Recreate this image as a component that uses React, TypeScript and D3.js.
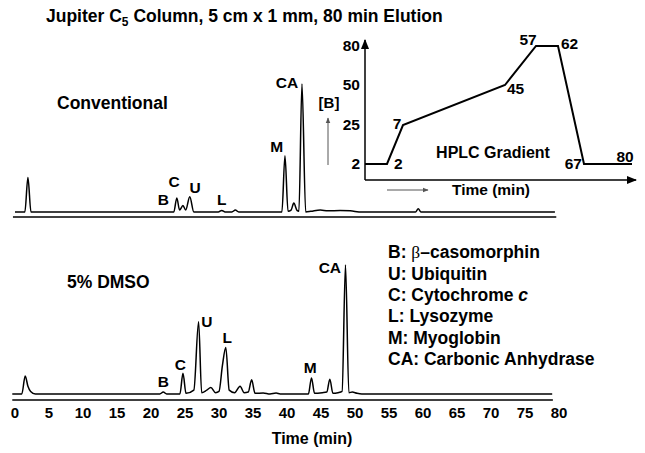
import * as d3 from 'd3';

// retention time axis (min)
const xTicks = [0, 5, 10, 15, 20, 25, 30, 35, 40, 45, 50, 55, 60, 65, 70, 75, 80];

// chromatogram traces: [time (min), relative absorbance (CA = 100)]
const conventionalTrace: [number, number][] = [
  [0, 0], [1.45, 0], [1.9, 27], [2.35, 0],
  [23.35, 0], [23.8, 11], [24.2, 1.5], [24.7, 5], [25.1, 1.5], [25.7, 12], [26.3, 0],
  [29.9, 0], [30.4, 1.2], [30.9, 0], [31.9, 0], [32.4, 1.5], [32.9, 0],
  [39.25, 0], [39.7, 44], [40.15, 0.5], [40.6, 1.5], [41.0, 7], [41.5, 1], [41.75, 0.5],
  [42.2, 100], [42.75, 0], [43.5, 0.5], [44.9, 1.6], [46.0, 0.9], [47.8, 1.2], [49.3, 0.9],
  [51, 0], [58.9, 0], [59.3, 2.5], [59.7, 0], [79.4, 0],
];

const dmsoTrace: [number, number][] = [
  [-0.4, 0], [1.0, 0], [1.5, 14], [1.9, 6], [2.3, 2], [3.0, 0],
  [21.3, 0], [21.8, 1.5], [22.3, 0],
  [24.25, 0], [24.7, 16], [25.15, 0.5], [26.3, 3], [27.0, 56], [27.45, 1],
  [28.2, 3], [28.8, 5], [29.5, 1], [30.0, 2], [30.5, 22], [31.0, 36], [31.5, 3],
  [32.3, 1], [33.1, 6], [33.7, 1], [34.3, 1.5], [34.8, 11], [35.3, 0.5],
  [36.5, 0.8], [37.5, 0], [38.4, 0.7], [39, 0],
  [43.15, 0], [43.6, 12.5], [44.05, 0.5], [45.2, 1], [45.85, 1.5], [46.3, 11.5], [46.75, 0.5],
  [47.5, 1], [48.1, 2], [48.6, 100], [49.1, 1], [49.6, 1.5], [50.3, 0.5], [51, 0], [79, 0],
];

// peak annotations: [label, time, signal level]
const conventionalLabels: [string, number, number][] = [
  ['B', 21.8, 10], ['C', 23.4, 23.4], ['U', 26.5, 18.8], ['L', 30.4, 10],
  ['M', 38.5, 50.8], ['CA', 40.0, 100.8],
];
const dmsoLabels: [string, number, number][] = [
  ['B', 21.8, 10], ['C', 24.3, 22.5], ['U', 28.2, 55.8], ['L', 31.2, 43.4],
  ['M', 43.4, 20.2], ['CA', 46.3, 97.7],
];

// HPLC gradient inset: time (min) vs %B
const gradTimes = [0, 2, 7, 45, 57, 62, 67, 80];
const gradB = [2, 2, 25, 50, 80, 80, 2, 2];
const gradBTicks = [2, 25, 50, 80];
const gradCornerLabels = ['2', '7', '45', '57', '62', '67', '80'];

const legendItems = [
  ['B: ', 'β', '–casomorphin', ''],
  ['U: Ubiquitin', '', '', ''],
  ['C: Cytochrome ', '', '', 'c'],
  ['L: Lysozyme', '', '', ''],
  ['M: Myoglobin', '', '', ''],
  ['CA: Carbonic Anhydrase', '', '', ''],
];

const FONT = "'Liberation Sans', Arial, sans-serif";

export default function App() {
  const x = d3.scaleLinear().domain([0, 80]).range([15, 559]);
  const yTop = d3.scaleLinear().domain([0, 100]).range([212, 84]);
  const yBot = d3.scaleLinear().domain([0, 100]).range([394, 265]);

  const lineTop = d3.line<[number, number]>()
    .x(d => x(d[0])).y(d => yTop(d[1])).curve(d3.curveMonotoneX);
  const lineBot = d3.line<[number, number]>()
    .x(d => x(d[0])).y(d => yBot(d[1])).curve(d3.curveMonotoneX);

  // inset scales (schematic, piecewise)
  const gx = d3.scaleLinear().domain(gradTimes).range([365, 387, 403, 505, 536, 558, 584, 632]);
  const gy = d3.scaleLinear().domain(gradBTicks).range([164, 125, 85, 46]);
  const gradPts = gradTimes.map((t, i) => [gx(t), gy(gradB[i])] as [number, number]);
  const gradLine = d3.line<[number, number]>()(gradPts) || '';

  // placement of corner labels relative to the corner points
  const cornerOffsets: [number, number, string][] = [
    [7, 0, 'start'], [-6, -1, 'middle'], [2, 4, 'start'], [-8, -6, 'middle'],
    [3, -2, 'start'], [-2, 0, 'end'], [-7, -7, 'middle'],
  ];

  const peakLabel = (lbls: [string, number, number][], y: d3.ScaleLinear<number, number>) =>
    lbls.map(([s, t, v], i) => (
      <text key={i} x={x(t)} y={y(v)} dy="0.35em" textAnchor="middle"
        fontSize={15.5} fontWeight="bold">{s}</text>
    ));

  return (
    <svg width={645} height={453} style={{ position: 'absolute', left: 0, top: 0, background: '#fff' }}
      fontFamily={FONT}>
      <defs>
        <marker id="ah" viewBox="0 0 10 10" refX="9" refY="5" markerWidth="7" markerHeight="7" orient="auto">
          <path d="M0,1 L10,5 L0,9 z" fill="#000" />
        </marker>
        <marker id="ahg" viewBox="0 0 10 10" refX="9" refY="5" markerWidth="6" markerHeight="6" orient="auto">
          <path d="M0,1 L10,5 L0,9 z" fill="#555" />
        </marker>
      </defs>

      {/* title */}
      <text x={46} y={22} fontSize={17.5} fontWeight="bold">
        Jupiter C<tspan fontSize={12} dy={4}>5</tspan><tspan dy={-4}>{'  '}Column, 5 cm x 1 mm, 80 min Elution</tspan>
      </text>

      {/* conventional panel */}
      <text x={57} y={103} dy="0.35em" fontSize={17.5} fontWeight="bold">Conventional</text>
      <path d={lineTop(conventionalTrace) || ''} fill="none" stroke="#000" strokeWidth={1.5} />
      <line x1={x(-0.3)} x2={x(79.6)} y1={217} y2={217} stroke="#000" strokeWidth={1.5} />
      {peakLabel(conventionalLabels, yTop)}

      {/* [B] arrow */}
      <text x={329} y={103} dy="0.35em" textAnchor="middle" fontSize={15} fontWeight="bold">[B]</text>
      <line x1={328} x2={328} y1={165} y2={118} stroke="#555" strokeWidth={1} markerEnd="url(#ahg)" />

      {/* inset gradient */}
      <line x1={gx(0)} x2={gx(0)} y1={180} y2={40} stroke="#000" strokeWidth={1.5} markerEnd="url(#ah)" />
      <line x1={gx(0)} x2={636} y1={180} y2={180} stroke="#000" strokeWidth={1.5} markerEnd="url(#ah)" />
      {gradBTicks.map(v => (
        <text key={v} x={360} y={gy(v)} dy="0.35em" textAnchor="end" fontSize={15.5} fontWeight="bold">{v}</text>
      ))}
      <path d={gradLine} fill="none" stroke="#000" strokeWidth={2} />
      {gradCornerLabels.map((s, i) => {
        const [px, py] = gradPts[i + 1];
        const [dx, dy, anchor] = cornerOffsets[i];
        return (
          <text key={i} x={px + dx} y={py + dy} dy="0.35em" textAnchor={anchor}
            fontSize={15.5} fontWeight="bold">{s}</text>
        );
      })}
      <text x={493} y={152} dy="0.35em" textAnchor="middle" fontSize={16} fontWeight="bold">HPLC Gradient</text>
      <line x1={387} x2={428} y1={190} y2={190} stroke="#555" strokeWidth={1} markerEnd="url(#ahg)" />
      <text x={491} y={190} dy="0.35em" textAnchor="middle" fontSize={15.5} fontWeight="bold">Time (min)</text>

      {/* 5% DMSO panel */}
      <text x={67} y={282} dy="0.35em" fontSize={17.5} fontWeight="bold">5% DMSO</text>
      <path d={lineBot(dmsoTrace) || ''} fill="none" stroke="#000" strokeWidth={1.5} />
      <line x1={x(-0.4)} x2={x(79.1)} y1={400} y2={400} stroke="#000" strokeWidth={1.5} />
      {peakLabel(dmsoLabels, yBot)}

      {/* legend */}
      {legendItems.map((it, i) => (
        <text key={i} x={388} y={252 + i * 21.4} dy="0.35em" fontSize={17.5} fontWeight="bold">
          {it[0]}
          {it[1] && <tspan fontFamily="'Liberation Serif', serif" fontWeight="normal">{it[1]}</tspan>}
          {it[2]}
          {it[3] && <tspan fontStyle="italic">{it[3]}</tspan>}
        </text>
      ))}

      {/* x axis */}
      {xTicks.map(t => (
        <text key={t} x={x(t)} y={413} dy="0.35em" textAnchor="middle" fontSize={15} fontWeight="bold">{t}</text>
      ))}
      <text x={312} y={438} dy="0.35em" textAnchor="middle" fontSize={16} fontWeight="bold">Time (min)</text>
    </svg>
  );
}
